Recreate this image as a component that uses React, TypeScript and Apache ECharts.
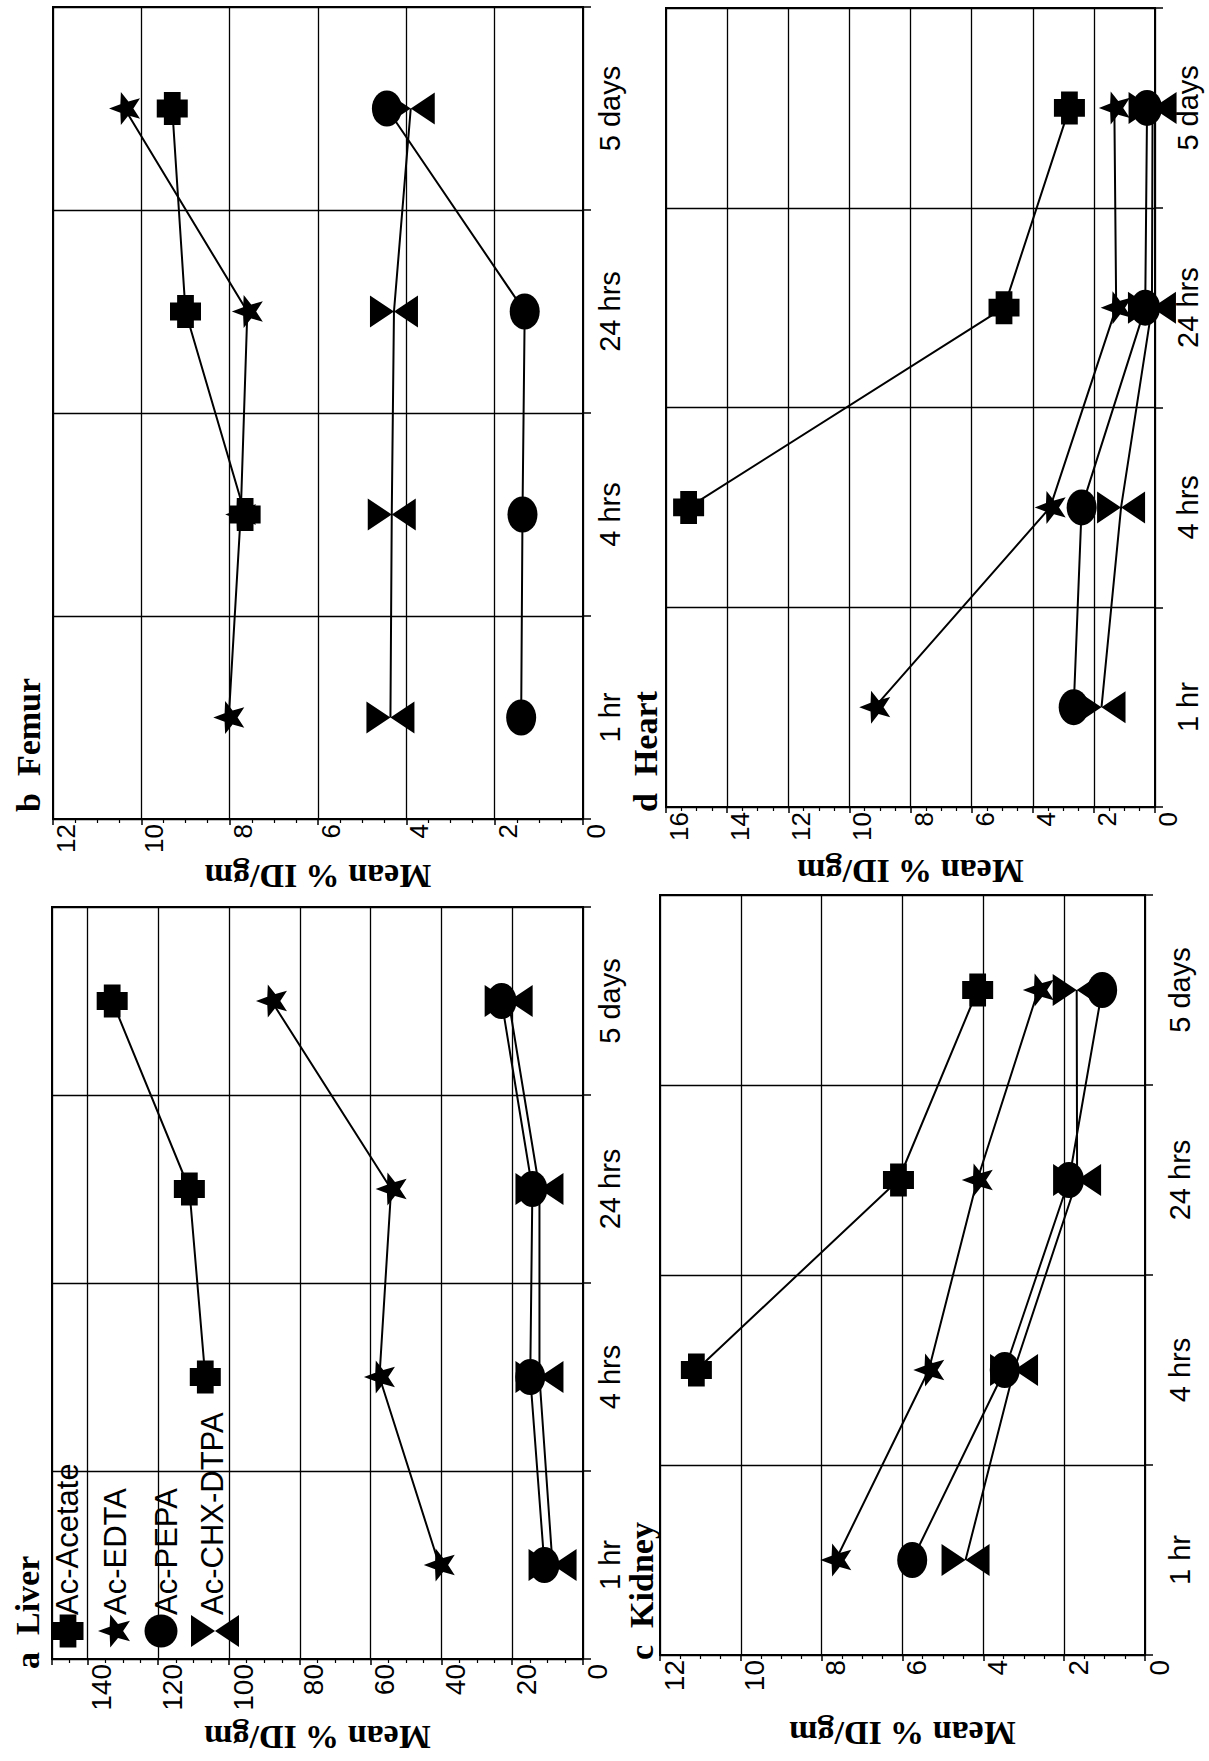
import React, { useEffect, useRef } from 'react';
import * as echarts from 'echarts';

// ---------- data ----------
const categories = ['1 hr', '4 hrs', '24 hrs', '5 days'];
const seriesNames = ['Ac-Acetate', 'Ac-EDTA', 'Ac-PEPA', 'Ac-CHX-DTPA'];

const liverAcetate = [null, 106.7, 111.2, 133];
const liverEdta = [40.6, 57.5, 54.2, 88];
const liverPepa = [10.9, 14.9, 14.3, 23];
const liverChx = [8.6, 12.3, 12.3, 21];

const femurAcetate = [null, 7.65, 9.0, 9.3];
const femurEdta = [8.02, 7.75, 7.6, 10.38];
const femurPepa = [1.4, 1.37, 1.32, 4.44];
const femurChx = [4.36, 4.33, 4.28, 3.9];

const kidneyAcetate = [null, 11.1, 6.1, 4.14];
const kidneyEdta = [7.65, 5.35, 4.15, 2.64];
const kidneyPepa = [5.76, 3.47, 1.88, 1.06];
const kidneyChx = [4.44, 3.24, 1.68, 1.69];

const heartAcetate = [null, 15.26, 4.94, 2.8];
const heartEdta = [9.17, 3.43, 1.27, 1.33];
const heartPepa = [2.66, 2.4, 0.32, 0.26];
const heartChx = [1.75, 1.11, 0.1, 0.08];

const liverAxis = [0, 150, 20];
const femurAxis = [0, 12, 2];
const kidneyAxis = [0, 12, 2];
const heartAxis = [0, 16, 2];

const axisName = 'Mean % ID/gm';

// ---------- styling ----------
const SANS = "'Liberation Sans', Arial, sans-serif";
const SERIF = "'Liberation Serif', 'Times New Roman', serif";

const CROSS_PTS = [[23, 0], [77, 0], [77, 23], [100, 23], [100, 77], [77, 77], [77, 100], [23, 100], [23, 77], [0, 77], [0, 23], [23, 23]];
const STAR_PTS: number[][] = (() => {
  const pts: number[][] = [];
  for (let i = 0; i < 10; i++) {
    const ang = Math.PI + (i * Math.PI) / 5;
    const rad = i % 2 === 0 ? 50 : 21;
    pts.push([50 + rad * Math.cos(ang), 50 + rad * Math.sin(ang)]);
  }
  return pts;
})();
const ptsToPath = (pts: number[][]) =>
  'path://' + pts.map((p, i) => (i ? 'L' : 'M') + p[0].toFixed(2) + ',' + p[1].toFixed(2)).join('') + 'Z';

const CROSS = ptsToPath(CROSS_PTS);
const STAR = ptsToPath(STAR_PTS);
const BOWTIE = 'path://M0,0L50,33L0,66ZM100,0L50,33L100,66Z';
const ELLIPSE = 'path://M50,0A50,50,0,1,1,50,100A50,50,0,1,1,50,0Z';

const symbols = [CROSS, STAR, ELLIPSE, BOWTIE];
const symbolSizes = [[31, 33], [31, 33], [30, 36], [48, 32]];

const panels = [
  { title: 'b  Femur', axis: femurAxis, data: [femurAcetate, femurEdta, femurPepa, femurChx],
    grid: { left: 53, top: 7, width: 530, height: 812 }, nameGap: 40, labelSize: 26, catMargin: 12, tx: 28, ty: 812 },
  { title: 'd  Heart', axis: heartAxis, data: [heartAcetate, heartEdta, heartPepa, heartChx],
    grid: { left: 666, top: 8, width: 489, height: 799 }, nameGap: 47, labelSize: 26, catMargin: 18, tx: 645, ty: 812 },
  { title: 'a  Liver', axis: liverAxis, data: [liverAcetate, liverEdta, liverPepa, liverChx],
    grid: { left: 52, top: 907, width: 531, height: 752 }, nameGap: 61, labelSize: 28, catMargin: 12, tx: 27, ty: 1669 },
  { title: 'c  Kidney', axis: kidneyAxis, data: [kidneyAcetate, kidneyEdta, kidneyPepa, kidneyChx],
    grid: { left: 660, top: 895, width: 485, height: 760 }, nameGap: 61, labelSize: 28, catMargin: 20, tx: 641, ty: 1660 },
];

function placePts(pts: number[][], cx: number, cy: number, w: number, h: number) {
  const xs = pts.map((p) => p[0]);
  const ys = pts.map((p) => p[1]);
  const x0 = Math.min(...xs), x1 = Math.max(...xs), y0 = Math.min(...ys), y1 = Math.max(...ys);
  return pts.map((p) => [cx + ((p[0] - x0) / (x1 - x0) - 0.5) * w, cy + ((p[1] - y0) / (y1 - y0) - 0.5) * h]);
}

function buildOption() {
  const grids: any[] = [];
  const xAxes: any[] = [];
  const yAxes: any[] = [];
  const series: any[] = [];
  const graphics: any[] = [];

  panels.forEach((p, i) => {
    const [min, max, interval] = p.axis;
    grids.push({ ...p.grid, show: true, borderColor: '#000', borderWidth: 2, containLabel: false, outerBoundsMode: 'none' });
    xAxes.push({
      type: 'value', gridIndex: i, inverse: true, min, max, interval, position: 'bottom',
      name: axisName, nameLocation: 'middle', nameGap: p.nameGap, nameRotate: 180, nameMoveOverlap: false,
      nameTextStyle: { fontFamily: SERIF, fontWeight: 'bold', fontSize: 34, color: '#000' },
      axisLine: { show: true, onZero: false, lineStyle: { color: '#000', width: 2 } },
      axisTick: { show: true, length: 6, lineStyle: { color: '#000', width: 1.5 } },
      minorTick: { show: true, splitNumber: 4, length: 4, lineStyle: { color: '#000', width: 1.2 } },
      minorSplitLine: { show: false },
      axisLabel: {
        rotate: 90, margin: 5, fontSize: p.labelSize, fontFamily: SANS, color: '#000',
        verticalAlign: 'top', showMaxLabel: max % interval === 0, showMinLabel: true,
      },
      splitLine: { show: true, lineStyle: { color: '#000', width: 1.3 } },
    });
    yAxes.push({
      type: 'category', gridIndex: i, data: categories, position: 'right', boundaryGap: true,
      axisLine: { show: true, onZero: false, lineStyle: { color: '#000', width: 2 } },
      axisTick: { show: true, length: 8, lineStyle: { color: '#000', width: 1.5 } },
      axisLabel: { rotate: 90, interval: 0, margin: p.catMargin, fontSize: 29, fontFamily: SANS, color: '#000' },
      splitLine: { show: true, interval: 0, lineStyle: { color: '#000', width: 1.3 } },
    });
    p.data.forEach((arr, s) => {
      const pts: any[] = [];
      arr.forEach((v, k) => {
        if (v !== null && v !== undefined) pts.push([v, k]);
      });
      series.push({
        type: 'line', name: seriesNames[s], xAxisIndex: i, yAxisIndex: i, data: pts,
        symbol: symbols[s], symbolSize: symbolSizes[s], showSymbol: true, silent: true,
        itemStyle: { color: '#000', borderWidth: 0 }, lineStyle: { color: '#000', width: 2 },
        emphasis: { disabled: true }, clip: false, z: 3 + s,
      });
    });
    graphics.push({
      type: 'text', x: p.tx, y: p.ty, rotation: Math.PI / 2,
      style: { text: p.title, fontFamily: SERIF, fontWeight: 'bold', fontSize: 34, fill: '#000', align: 'left', verticalAlign: 'middle' },
    });
  });

  // legend (inside Liver panel)
  const legendY = 1631;
  const legendItems = [
    { sx: 68, tx: 67 },
    { sx: 114, tx: 115 },
    { sx: 161, tx: 166 },
    { sx: 215, tx: 212 },
  ];
  graphics.push({
    type: 'polygon', shape: { points: placePts(CROSS_PTS, legendItems[0].sx, legendY, 31, 33) }, style: { fill: '#000' }, z: 100,
  });
  graphics.push({
    type: 'polygon', shape: { points: placePts(STAR_PTS, legendItems[1].sx, legendY, 32, 33) }, style: { fill: '#000' }, z: 100,
  });
  graphics.push({
    type: 'ellipse', shape: { cx: legendItems[2].sx, cy: legendY, rx: 16.5, ry: 16.5 }, style: { fill: '#000' }, z: 100,
  });
  graphics.push({
    type: 'polygon', shape: { points: [[191, 1615], [215, 1631], [191, 1647]] }, style: { fill: '#000' }, z: 100,
  });
  graphics.push({
    type: 'polygon', shape: { points: [[239, 1615], [215, 1631], [239, 1647]] }, style: { fill: '#000' }, z: 100,
  });
  legendItems.forEach((it, s) => {
    graphics.push({
      type: 'text', x: it.tx, y: 1615, rotation: Math.PI / 2, z: 100,
      style: { text: seriesNames[s], fontFamily: SANS, fontSize: 31, fill: '#000', align: 'left', verticalAlign: 'middle' },
    });
  });

  return {
    animation: false,
    backgroundColor: '#fff',
    grid: grids,
    xAxis: xAxes,
    yAxis: yAxes,
    series,
    graphic: { elements: graphics },
  };
}

export default function App() {
  const ref = useRef<HTMLDivElement>(null);
  useEffect(() => {
    if (!ref.current) return;
    const chart = echarts.init(ref.current, null, { renderer: 'svg' });
    chart.setOption(buildOption() as any);
    return () => chart.dispose();
  }, []);
  return (
    <div
      ref={ref}
      style={{ position: 'absolute', left: 0, top: 0, width: 1209, height: 1761, background: '#fff' }}
    />
  );
}
